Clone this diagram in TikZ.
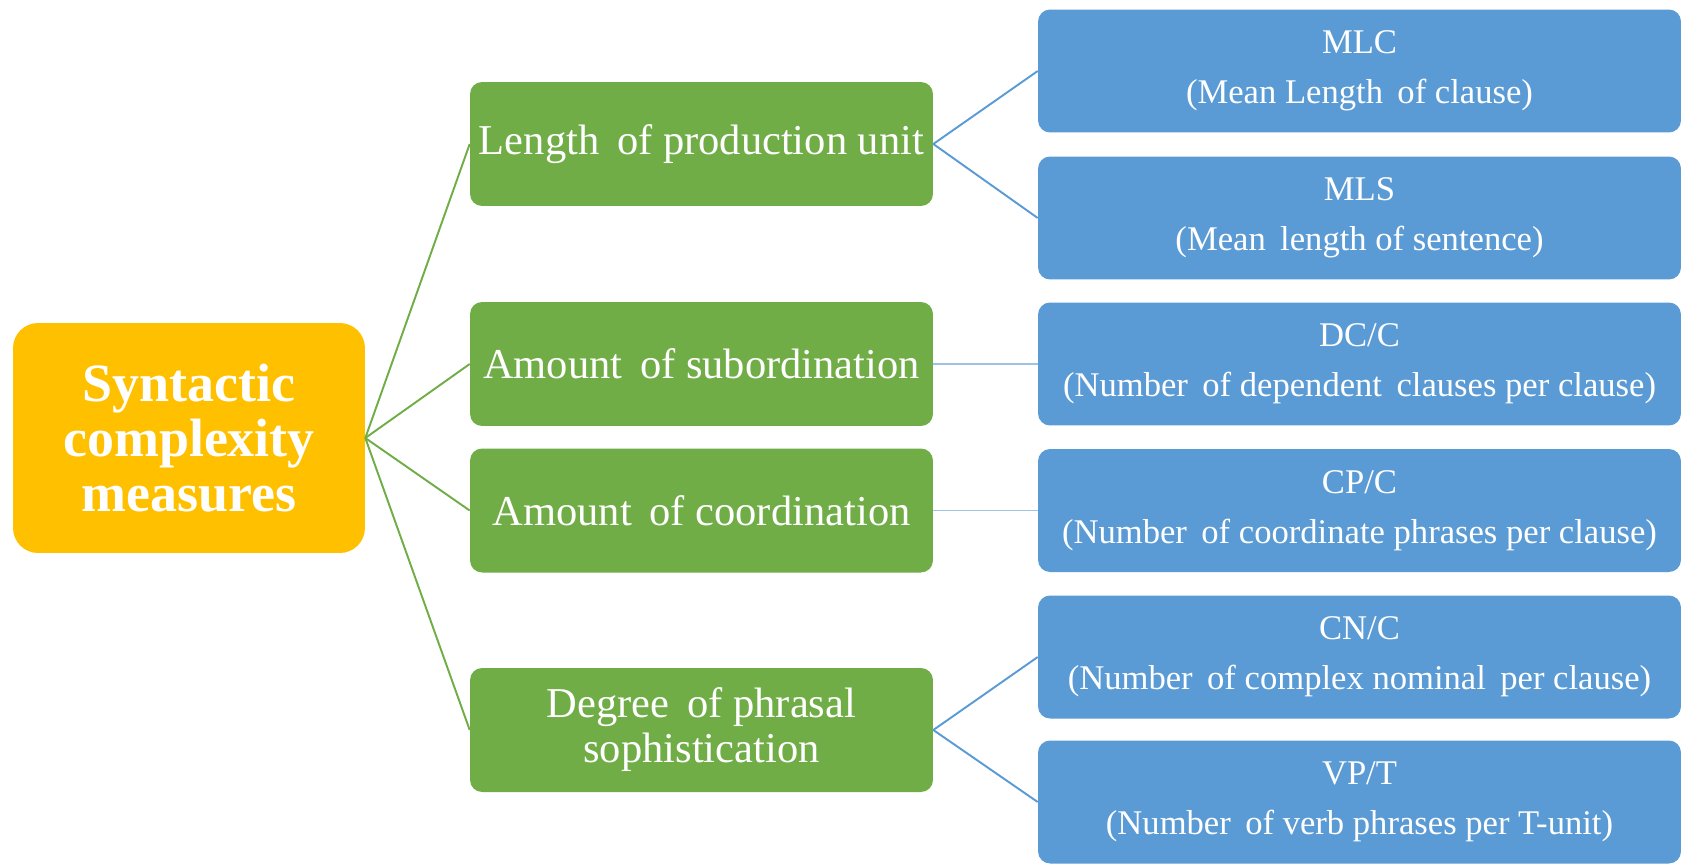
\documentclass[tikz,border=0pt]{standalone}
\usepackage{fontspec}
\setmainfont{Liberation Serif}
\definecolor{RootGold}{RGB}{255,192,0}
\definecolor{MeasGreen}{RGB}{112,173,71}
\definecolor{IdxBlue}{RGB}{91,155,213}
\definecolor{LinkBlue}{RGB}{157,195,230}

\begin{document}
\begin{tikzpicture}[x=0.02cm, y=-0.02cm,
    rootbox/.style={fill=RootGold, rounded corners=0.5cm, inner sep=0pt,
      minimum width=7.04cm, minimum height=4.6cm, text=white, align=center,
      font=\fontsize{30.7}{31.3}\selectfont\bfseries},
    measbox/.style={fill=MeasGreen, rounded corners=0.24cm, inner sep=0pt,
      minimum width=9.26cm, minimum height=2.48cm, text=white, align=center,
      font=\fontsize{24.2}{25.6}\selectfont},
    idxbox/.style={fill=IdxBlue, rounded corners=0.24cm, inner sep=0pt,
      minimum width=12.86cm, minimum height=2.46cm, text=white, align=center,
      font=\fontsize{19.7}{28.5}\selectfont},
    greenlink/.style={draw=MeasGreen, line width=1.1pt},
    bluelink/.style={draw=IdxBlue, line width=1.1pt},
    flatlink/.style={draw=LinkBlue, line width=1.1pt}]
    \useasboundingbox (0,0) rectangle (1683,863);

    % Raiz
    \node[rootbox] (root) at (189,438) {Syntactic\\complexity\\measures};

    % Medidas
    \node[measbox] (len)   at (701.5,144)   {Length\, of production unit};
    \node[measbox] (sub)   at (701.5,364)   {Amount\, of subordination};
    \node[measbox] (coord) at (701.5,510.5) {Amount\, of coordination};
    \node[measbox] (phr)   at (701.5,730)   {Degree\, of phrasal\\sophistication};

    % Indices
    \node[idxbox] (mlc) at (1359.5,71)    {MLC\\(Mean Length\, of clause)};
    \node[idxbox] (mls) at (1359.5,218)   {MLS\\(Mean\, length of sentence)};
    \node[idxbox] (dcc) at (1359.5,364)   {DC/C\\(Number\, of dependent\, clauses per clause)};
    \node[idxbox] (cpc) at (1359.5,510.5) {CP/C\\(Number\, of coordinate phrases per clause)};
    \node[idxbox] (cnc) at (1359.5,657)   {CN/C\\(Number\, of complex nominal\, per clause)};
    \node[idxbox] (vpt) at (1359.5,802)   {VP/T\\(Number\, of verb phrases per T-unit)};

    % Enlaces
    \foreach \m in {len,sub,coord,phr}
      \draw[greenlink] (root.east) -- (\m.west);
    \draw[bluelink] (len.east) -- (mlc.west);
    \draw[bluelink] (len.east) -- (mls.west);
    \draw[flatlink] (sub.east) -- (dcc.west);
    \draw[flatlink] (coord.east) -- (cpc.west);
    \draw[bluelink] (phr.east) -- (cnc.west);
    \draw[bluelink] (phr.east) -- (vpt.west);
  \end{tikzpicture}
\end{document}
